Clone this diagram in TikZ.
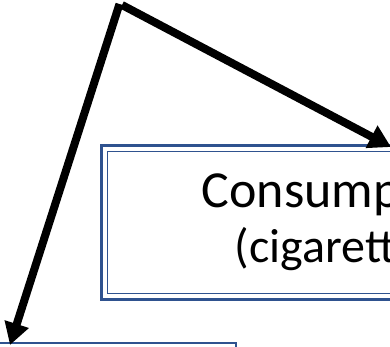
\documentclass[tikz,border=0pt]{standalone}
\usepackage{fontspec}
\setmainfont{Carlito}
\usetikzlibrary{arrows.meta}
\definecolor{boxblue}{HTML}{2F528F}
\tikzset{
  outerline/.style={draw=boxblue, line width=2.8pt},
  innerline/.style={draw=boxblue, line width=1.4pt},
  bigarrow/.style={draw=black, line width=8pt, line cap=butt, line join=miter,
    -{Triangle[length=22pt,width=24pt]}},
  bigtext/.style={inner sep=0pt, anchor=base west, font=\fontsize{52}{56}\selectfont},
  midtext/.style={inner sep=0pt, anchor=base west, font=\fontsize{48}{56}\selectfont}
}
\begin{document}
\begin{tikzpicture}[x=1pt,y=-1pt]
\useasboundingbox (0,0) rectangle (390,346);
\clip (0,0) rectangle (390,346);
% box 1 (double border)
\draw[outerline] (101.5,145.5) rectangle (420,299.5);
\draw[innerline] (107.5,151.5) rectangle (414,293.5);
% box 2 (only top visible)
\draw[outerline] (-10,343) rectangle (236,420);
\draw[innerline] (-10,348.5) rectangle (230,414);
% texts
\node[bigtext] (t1) at (201.5,207) {Consump};
\node[midtext] (t2) at (234.5,262) {(cigarett};
% arrows
\coordinate (apex) at (122,5);
\coordinate (apexL) at (119.5,4);
\coordinate (tipA) at (391,147);
\coordinate (tipB) at (10,345);
\draw[bigarrow] (apex) -- (tipA);
\draw[bigarrow] (apexL) -- (tipB);
\end{tikzpicture}
\end{document}
